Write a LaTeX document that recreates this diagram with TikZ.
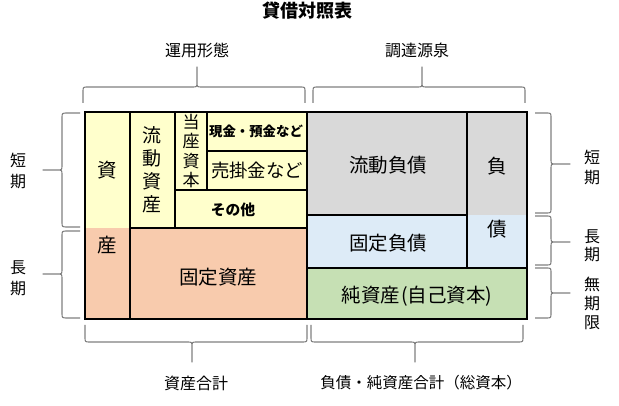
\documentclass[tikz,border=0pt]{standalone}
\usepackage{fontspec}
\setmainfont{Noto Sans CJK JP}
\definecolor{cyel}{HTML}{FFFFCC}
\definecolor{cora}{HTML}{F8CBAD}
\definecolor{cgry}{HTML}{D9D9D9}
\definecolor{cblu}{HTML}{DDEBF7}
\definecolor{cgrn}{HTML}{C6E0B4}
\definecolor{cbr}{HTML}{7F7F7F}
% horizontal brace: x1 x2 xm yend yline ytip
\newcommand{\mybraceH}[6]{%
\draw[brace] (#1,#4) -- (#1,{#5+(#4-#5)*0.3}) .. controls (#1,#5) .. ({#1+5},#5) -- ({#3-5},#5) .. controls (#3,#5) .. (#3,{#5+(#6-#5)*0.25}) -- (#3,#6) -- (#3,{#5+(#6-#5)*0.25}) .. controls (#3,#5) .. ({#3+5},#5) -- ({#2-5},#5) .. controls (#2,#5) .. (#2,{#5+(#4-#5)*0.3}) -- (#2,#4);}
% vertical brace: y1 y2 ym xend xline xtip
\newcommand{\mybraceV}[6]{%
\draw[brace] (#4,#1) -- ({#5+(#4-#5)*0.3},#1) .. controls (#5,#1) .. (#5,{#1+5}) -- (#5,{#3-5}) .. controls (#5,#3) .. ({#5+(#6-#5)*0.25},#3) -- (#6,#3) -- ({#5+(#6-#5)*0.25},#3) .. controls (#5,#3) .. (#5,{#3+5}) -- (#5,{#2-5}) .. controls (#5,#2) .. ({#5+(#4-#5)*0.3},#2) -- (#4,#2);}
\begin{document}
\begin{tikzpicture}[x=1pt,y=-1pt,
  cellline/.style={line width=1.6pt},
  brace/.style={draw=cbr,line width=1.1pt,line join=round},
  lbl/.style={font=\fontsize{16}{20}\selectfont, inner sep=0pt, align=center},
  big/.style={font=\fontsize{19.5}{23}\selectfont, inner sep=0pt, align=center}]
\useasboundingbox (0,0) rectangle (619,406);
% fills
\fill[cyel] (85,112) rectangle (307,228);
\fill[cora] (85,228) rectangle (307,319);
\fill[cgry] (307,112) rectangle (527,215);
\fill[cblu] (307,215) rectangle (527,268);
\fill[cgrn] (307,268) rectangle (527,319);
% grid lines
\draw[cellline] (130,112) -- (130,319);
\draw[cellline] (175,112) -- (175,228);
\draw[cellline] (130,228) -- (307,228);
\draw[cellline] (207,112) -- (207,190);
\draw[cellline] (207,151) -- (307,151);
\draw[cellline] (175,190) -- (307,190);
\draw[cellline] (307,112) -- (307,319);
\draw[cellline] (467,112) -- (467,268);
\draw[cellline] (307,215) -- (467,215);
\draw[cellline] (307,268) -- (527,268);
\draw[cellline] (85,112) rectangle (527,319);
% titles
\node[font=\fontsize{18}{22}\selectfont\bfseries, inner sep=0pt] (title) at (307,11) {貸借対照表};
\node[lbl] (unyo) at (197,50) {運用形態};
\node[lbl] (chotatsu) at (417,50) {調達源泉};
\node[lbl] (shisangokei) at (196,383) {資産合計};
\node[lbl,font=\fontsize{15.5}{20}\selectfont] (fusaigokei) at (421,383) {負債・純資産合計（総資本）};
% side labels
\node[lbl,font=\fontsize{16}{21}\selectfont] (ltan) at (18,171) {短\\期};
\node[lbl,font=\fontsize{16}{21}\selectfont] (lcho) at (18,278) {長\\期};
\node[lbl] (rtan) at (592,167) {短\\期};
\node[lbl,font=\fontsize{16}{18.5}\selectfont] (rcho) at (592,246) {長\\期};
\node[lbl,font=\fontsize{16}{19}\selectfont] (rmu) at (592,303) {無\\期\\限};
% cell labels
\node[big] (shi) at (107,170) {資};
\node[big] (san) at (107,245) {産};
\node[big,font=\fontsize{19}{23}\selectfont] (ryudoshisan) at (152,170) {流\\動\\資\\産};
\node[big,font=\fontsize{17}{19.5}\selectfont] (toza) at (191,151) {当\\座\\資\\本};
\node[font=\fontsize{13.4}{16}\selectfont\bfseries, inner sep=0pt] (genkin) at (256,131) {現金・預金など};
\node[font=\fontsize{18.4}{22}\selectfont, inner sep=0pt] (urikake) at (257,171) {売掛金など};
\node[font=\fontsize{14.8}{18}\selectfont\bfseries, inner sep=0pt] (sonota) at (233,210) {その他};
\node[big] (koteishisan) at (218,277) {固定資産};
\node[big] (ryudofusai) at (388,165) {流動負債};
\node[big] (fu) at (497,166) {負};
\node[big] (sai) at (497,229) {債};
\node[big] (koteifusai) at (388,243) {固定負債};
\node[big] (junshisan) at (417,296) {純資産\hspace{1pt}(自己資本)};
% braces
\mybraceH{83}{305}{197}{103}{87}{67}
\mybraceH{313}{525}{422}{103}{87}{67}
\mybraceH{85}{307}{192}{325}{342}{362}
\mybraceH{311}{523}{415}{325}{342}{362}
\mybraceV{113}{227}{170}{80}{62}{43}
\mybraceV{231}{318}{274}{80}{62}{43}
\mybraceV{113}{213}{164}{535}{551}{570}
\mybraceV{216}{265}{242}{535}{551}{570}
\mybraceV{268}{318}{293}{535}{551}{570}
\end{tikzpicture}
\end{document}
